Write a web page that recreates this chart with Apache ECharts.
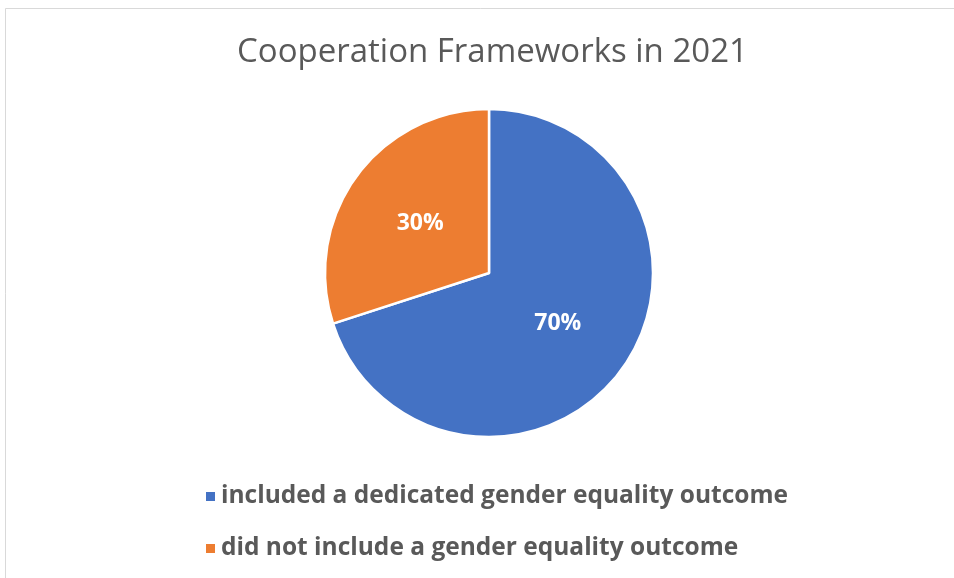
<!DOCTYPE html>
<html><head><meta charset="utf-8">
<script src="https://cdn.jsdelivr.net/npm/echarts@6/dist/echarts.min.js"></script>
<style>html,body{margin:0;padding:0;background:#fff}#c{width:954px;height:578px}</style>
</head><body><div id="c"></div>
<script>
const titleText = "Cooperation Frameworks in 2021";
const categories = ["included a dedicated gender equality outcome", "did not include a gender equality outcome"];
const values = [70, 30];
const colors = ["#4472C4", "#ED7D31"];

const chart = echarts.init(document.getElementById('c'), null, {renderer: 'canvas'});
chart.setOption({
  backgroundColor: '#fff',
  animation: false,
  graphic: [{type: 'rect', shape: {x: 5.5, y: 8.5, width: 960, height: 600}, style: {fill: 'none', stroke: '#D9D9D9', lineWidth: 1}}],
  title: {
    text: titleText, left: 232, top: 31,
    textStyle: {fontFamily: 'Open Sans', fontWeight: 'normal', fontSize: 33, color: '#595959'}
  },
  legend: {
    orient: 'vertical', left: 199, top: 479, itemGap: 27,
    itemWidth: 11, itemHeight: 11, icon: 'rect',
    textStyle: {fontFamily: 'Open Sans', fontWeight: 'bold', fontSize: 24.5, color: '#595959'},
    data: categories
  },
  series: [{
    type: 'pie', center: [489, 273], radius: 164, startAngle: 90, clockwise: true,
    itemStyle: {borderColor: '#fff', borderWidth: 2.5},
    label: {show: true, position: 'inside', formatter: p => p.value + '%', color: '#fff', fontFamily: 'Open Sans', fontWeight: 'bold', fontSize: 23},
    labelLine: {show: false},
    data: categories.map((c, i) => ({name: c, value: values[i], itemStyle: {color: colors[i]}}))
  }]
});
</script></body></html>
